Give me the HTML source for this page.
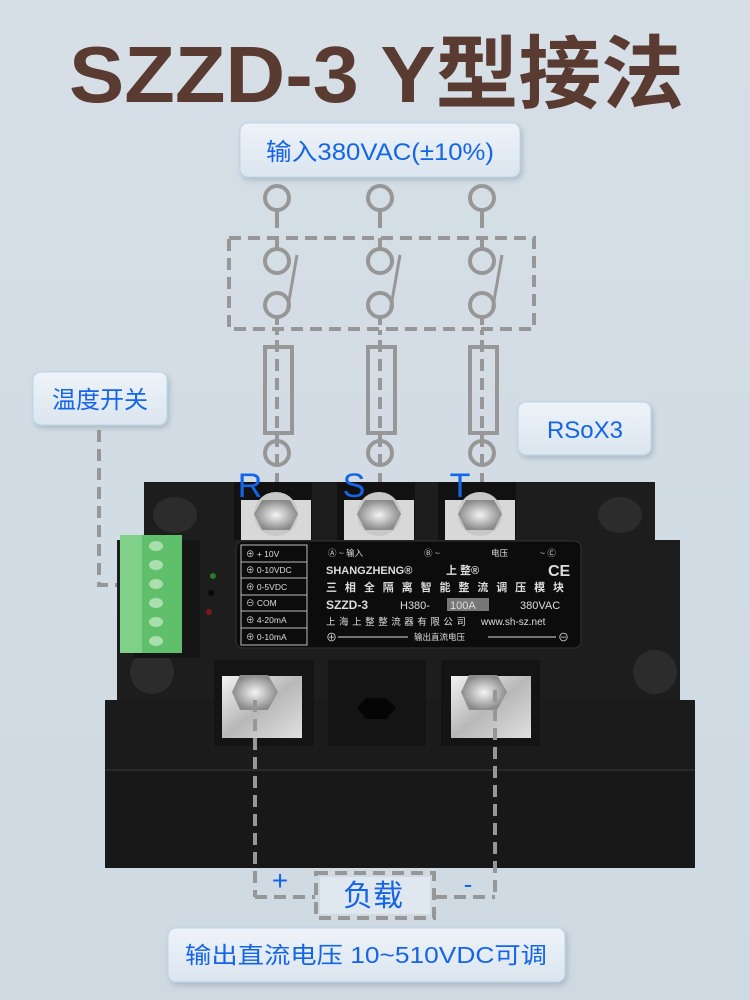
<!DOCTYPE html>
<html><head><meta charset="utf-8"><style>
html,body{margin:0;padding:0;background:#d5dee6;}
svg{display:block;}
text{font-family:"Liberation Sans","Noto Sans CJK SC",sans-serif;}
</style></head><body>
<svg width="750" height="1000" viewBox="0 0 750 1000">
<defs>
<linearGradient id="bg" x1="0" y1="0" x2="0" y2="1"><stop offset="0" stop-color="#d6dfe6"/><stop offset="1" stop-color="#cfd9e2"/></linearGradient>
<linearGradient id="box" x1="0" y1="0" x2="0" y2="1"><stop offset="0" stop-color="#eef3f8"/><stop offset="1" stop-color="#dbe5ef"/></linearGradient>
<linearGradient id="metal" x1="0" y1="0" x2="1" y2="1"><stop offset="0" stop-color="#f2f2f2"/><stop offset="0.5" stop-color="#b8b8b8"/><stop offset="1" stop-color="#e0e0e0"/></linearGradient>
<radialGradient id="bolt"><stop offset="0" stop-color="#f4f4f4"/><stop offset="1" stop-color="#8a8a8a"/></radialGradient>
<filter id="sh" x="-10%" y="-10%" width="120%" height="130%"><feDropShadow dx="2" dy="3" stdDeviation="3" flood-color="#7f8f9f" flood-opacity="0.45"/></filter>
</defs>
<rect width="750" height="1000" fill="url(#bg)"/>

<text x="69" y="102" font-size="80" font-weight="bold" fill="#5a3b32" textLength="615" lengthAdjust="spacingAndGlyphs">SZZD-3 Y型接法</text>

<!-- label boxes -->
<g filter="url(#sh)">
<rect x="240" y="123" width="280" height="54" rx="8" fill="url(#box)" stroke="#b9d6ee"/>
<rect x="33" y="372" width="134" height="53" rx="8" fill="url(#box)" stroke="#b9d6ee"/>
<rect x="518" y="402" width="133" height="53" rx="8" fill="url(#box)" stroke="#b9d6ee"/>
<rect x="168" y="928" width="397" height="54" rx="8" fill="url(#box)" stroke="#b9d6ee"/>
</g>
<text x="380" y="160" font-size="24" fill="#1565e8" text-anchor="middle" textLength="228" lengthAdjust="spacingAndGlyphs">输入380VAC(±10%)</text>
<text x="100" y="408" font-size="24" fill="#1565e8" text-anchor="middle">温度开关</text>
<text x="585" y="438" font-size="24" fill="#1565e8" text-anchor="middle">RSoX3</text>
<text x="366" y="963" font-size="23" fill="#1565e8" text-anchor="middle" textLength="362" lengthAdjust="spacingAndGlyphs">输出直流电压 10~510VDC可调</text>

<!-- wiring -->
<g stroke="#979797" stroke-width="4" fill="none">
<rect x="229" y="238" width="305" height="91" stroke-dasharray="12,7"/>
<g id="col">
<ellipse cx="277" cy="198" rx="12" ry="12"/>
<line x1="277" y1="210" x2="277" y2="228"/>
<line x1="277" y1="238" x2="277" y2="249"/>
<ellipse cx="277" cy="261" rx="12" ry="12"/>
<ellipse cx="277" cy="305" rx="12" ry="12"/>
<line x1="297" y1="255" x2="287" y2="312" stroke-width="3"/>
<line x1="277" y1="317" x2="277" y2="335" stroke-dasharray="8,5"/>
<rect x="265" y="347" width="27" height="86"/>
<line x1="277" y1="340" x2="277" y2="500" stroke-dasharray="12,7"/>
<ellipse cx="277" cy="453" rx="12" ry="12"/>
</g>
<use href="#col" x="103"/>
<use href="#col" x="205"/>
<path d="M99 430 V585 H132" stroke-dasharray="12,7"/>
</g>

<!-- device -->
<g>
<path d="M144 482 H655 V540 H680 V700 H117 V540 H144 Z" fill="#1d1d1d"/>
<rect x="105" y="700" width="590" height="168" fill="#1b1b1b"/>
<rect x="105" y="770" width="590" height="98" fill="#181818"/>
<line x1="105" y1="770" x2="695" y2="770" stroke="#2a2a2a" stroke-width="2"/>
<ellipse cx="175" cy="515" rx="22" ry="18" fill="#2c2c2c"/>
<ellipse cx="620" cy="515" rx="22" ry="18" fill="#2c2c2c"/>
<ellipse cx="152" cy="672" rx="22" ry="22" fill="#2c2c2c"/>
<ellipse cx="655" cy="672" rx="22" ry="22" fill="#2c2c2c"/>
<!-- top terminals -->
<g id="tt">
<rect x="234" y="482" width="78" height="58" fill="#111"/>
<rect x="241" y="500" width="70" height="40" fill="#d8d8d8"/>
<circle cx="276" cy="514" r="22" fill="#c8c8c8"/>
<polygon points="262,500 290,500 298,514 290,530 262,530 254,514" fill="url(#bolt)"/>
</g>
<use href="#tt" x="103"/>
<use href="#tt" x="204"/>
<!-- green terminal -->
<rect x="134" y="540" width="66" height="118" fill="#151515"/>
<rect x="120" y="535" width="62" height="118" fill="#5fbf6a"/>
<rect x="120" y="535" width="22" height="118" fill="#7fd089"/>
<g fill="#a9dfae"><ellipse cx="156" cy="546" rx="7" ry="5"/><ellipse cx="156" cy="565" rx="7" ry="5"/><ellipse cx="156" cy="584" rx="7" ry="5"/><ellipse cx="156" cy="603" rx="7" ry="5"/><ellipse cx="156" cy="622" rx="7" ry="5"/><ellipse cx="156" cy="641" rx="7" ry="5"/></g>
<circle cx="213" cy="576" r="3" fill="#2a7a2a"/><circle cx="211" cy="593" r="3" fill="#090909"/><circle cx="209" cy="612" r="3" fill="#7a1a1a"/>
<!-- label plate -->
<rect x="236" y="541" width="345" height="107" rx="7" fill="#0c0c0c" stroke="#333"/>
<g stroke="#bbb" fill="none" stroke-width="1"><rect x="241" y="545" width="66" height="100"/>
<line x1="241" y1="562" x2="307" y2="562"/><line x1="241" y1="578" x2="307" y2="578"/><line x1="241" y1="595" x2="307" y2="595"/><line x1="241" y1="611" x2="307" y2="611"/><line x1="241" y1="628" x2="307" y2="628"/></g>
<g fill="#ddd" font-size="8.5">
<text x="246" y="557">⊕ + 10V</text><text x="246" y="573">⊕ 0-10VDC</text><text x="246" y="590">⊕ 0-5VDC</text><text x="246" y="606">⊖ COM</text><text x="246" y="623">⊕ 4-20mA</text><text x="246" y="640">⊕ 0-10mA</text>
<text x="328" y="556">Ⓐ ~   输入</text><text x="424" y="556">Ⓑ ~</text><text x="491" y="556">电压</text><text x="540" y="556">~ Ⓒ</text>
<text x="326" y="574" font-size="11" font-weight="bold">SHANGZHENG®</text><text x="446" y="574" font-size="11" font-weight="bold">上 整®</text>
<text x="548" y="576" font-size="16" font-weight="bold">CE</text>
<text x="326" y="591" font-size="11" font-weight="bold" textLength="238" lengthAdjust="spacing">三相全隔离智能整流调压模块</text>
<text x="326" y="609" font-size="12" font-weight="bold">SZZD-3</text><text x="400" y="609" font-size="11">H380-</text>
<rect x="447" y="598" width="42" height="13" fill="#777"/><text x="450" y="609" font-size="11">100A</text><text x="520" y="609" font-size="11">380VAC</text>
<text x="326" y="625" font-size="9.5" textLength="140" lengthAdjust="spacing">上海上整整流器有限公司</text><text x="481" y="625" font-size="10">www.sh-sz.net</text>
<text x="326" y="641" font-size="11">⊕</text><text x="414" y="640">输出直流电压</text><text x="558" y="641" font-size="11">⊖</text>
</g>
<g stroke="#ddd"><line x1="338" y1="637" x2="408" y2="637"/><line x1="488" y1="637" x2="556" y2="637"/></g>
<!-- bottom terminals -->
<rect x="214" y="660" width="100" height="86" fill="#141414"/>
<rect x="328" y="660" width="98" height="86" fill="#141414"/>
<rect x="441" y="660" width="99" height="86" fill="#141414"/>
<rect x="222" y="676" width="80" height="62" fill="url(#metal)"/>
<rect x="451" y="676" width="80" height="62" fill="url(#metal)"/>
<polygon points="240,675 268,675 278,692 268,710 240,710 232,692" fill="url(#bolt)"/>
<polygon points="469,675 497,675 507,692 497,710 469,710 461,692" fill="url(#bolt)"/>
<polygon points="366,698 386,698 396,708 386,719 366,719 357,708" fill="#050505"/>
</g>
<text x="250" y="497" font-size="34" fill="#1565e8" text-anchor="middle">R</text>
<text x="354" y="497" font-size="34" fill="#1565e8" text-anchor="middle">S</text>
<text x="460" y="497" font-size="34" fill="#1565e8" text-anchor="middle">T</text>

<!-- load -->
<g stroke="#979797" stroke-width="4" fill="none" stroke-dasharray="12,7">
<line x1="255" y1="700" x2="255" y2="897"/>
<line x1="495" y1="690" x2="495" y2="897"/>
<path d="M255 897 H315"/><path d="M435 897 H495"/>
<rect x="316" y="873" width="118" height="45"/>
</g>
<rect x="320" y="877" width="110" height="37" fill="#dfe7ef"/>
<text x="280" y="890" font-size="28" fill="#1565e8" text-anchor="middle">+</text>
<text x="468" y="893" font-size="26" fill="#1565e8" text-anchor="middle">-</text>
<text x="373" y="906" font-size="30" fill="#1565e8" text-anchor="middle">负载</text>
</svg>
</body></html>
